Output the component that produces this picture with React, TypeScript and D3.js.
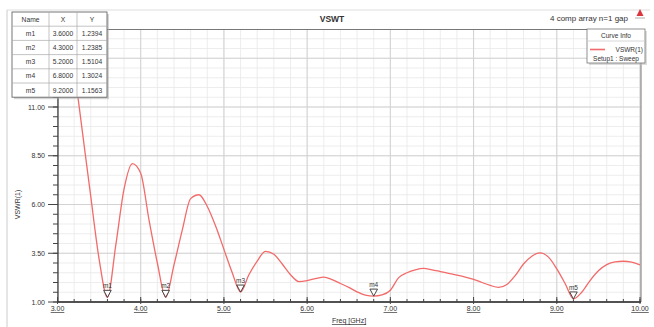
import * as d3 from 'd3';

// sweep samples (GHz, VSWR)
const FREQ = [
  3.0, 3.1, 3.2, 3.3, 3.4, 3.5, 3.6, 3.7, 3.8, 3.9, 4.0, 4.1, 4.2, 4.3, 4.4, 4.5, 4.6, 4.7, 4.8, 4.9,
  5.0, 5.1, 5.2, 5.3, 5.4, 5.5, 5.6, 5.7, 5.8, 5.9, 6.0, 6.1, 6.2, 6.3, 6.4, 6.5, 6.6, 6.7, 6.8, 6.9,
  7.0, 7.1, 7.2, 7.3, 7.4, 7.5, 7.6, 7.7, 7.8, 7.9, 8.0, 8.1, 8.2, 8.3, 8.4, 8.5, 8.6, 8.7, 8.8, 8.9,
  9.0, 9.1, 9.2, 9.3, 9.4, 9.5, 9.6, 9.7, 9.8, 9.9, 10.0,
];
const VSWR = [
  19.0, 16.0, 13.0, 9.7, 6.4, 3.2, 1.24, 3.9, 6.8, 8.1, 7.6, 5.2, 3.0, 1.24, 2.9, 4.7, 6.3, 6.5, 5.9, 4.9,
  3.7, 2.5, 1.51, 2.4, 3.1, 3.6, 3.45, 2.95, 2.4, 2.05, 2.1, 2.2, 2.28, 2.15, 1.95, 1.75, 1.52, 1.35, 1.3, 1.36,
  1.6, 2.25, 2.5, 2.65, 2.72, 2.65, 2.56, 2.47, 2.38, 2.28, 2.16, 2.0, 1.85, 1.75, 1.9, 2.35, 2.95, 3.35, 3.52, 3.3,
  2.7, 1.95, 1.16, 1.5, 2.1, 2.6, 2.92, 3.06, 3.09, 3.04, 2.9,
];

const MARKER_NAMES = ['m1', 'm2', 'm3', 'm4', 'm5'];
const MARKER_X = [3.6, 4.3, 5.2, 6.8, 9.2];
const MARKER_Y = [1.2394, 1.2385, 1.5104, 1.3024, 1.1563];

const X_TICKS = [3, 4, 5, 6, 7, 8, 9, 10];
const Y_TICKS = [1, 3.5, 6, 8.5, 11];

const W = 654;
const H = 327;
const LEFT = 58;
const RIGHT = 641;
const BOTTOM = 302;
const TOP = 29.5;
const FONT = '"Liberation Sans", Arial, sans-serif';
const RED = '#f26a6a';

export default function App() {
  const x = d3.scaleLinear().domain([3, 10]).range([57.5, 640]);
  const y = d3.scaleLinear().domain([1, 11]).range([BOTTOM, 107]);
  const yTop = y.invert(TOP);

  const minorX = d3.range(3, 10.001, 0.2);
  const minorY = d3.range(1, yTop, 0.5);
  const majorY = d3.range(1, yTop, 2.5);

  const line = d3
    .line<number>()
    .x((_, i) => x(FREQ[i]))
    .y((d) => y(d))
    .curve(d3.curveMonotoneX);

  const rowH = 14.2;
  const colX = [12, 49, 77, 107];
  const tableRows = MARKER_NAMES.map((n, i) => [n, MARKER_X[i].toFixed(4), MARKER_Y[i].toFixed(4)]);

  return (
    <svg
      width={W}
      height={H}
      style={{ position: 'absolute', left: 0, top: 0, background: '#fff', fontFamily: FONT }}
    >
      <defs>
        <clipPath id="plot">
          <rect x={LEFT} y={TOP} width={RIGHT - LEFT} height={BOTTOM - TOP} />
        </clipPath>
      </defs>

      {/* outer frame */}
      <line x1={7} y1={10} x2={650} y2={10} stroke="#ddd" />
      <line x1={7} y1={10} x2={7} y2={327} stroke="#ccc" />

      {/* grid */}
      {minorX.map((v) => (
        <line key={'gx' + v} x1={x(v)} x2={x(v)} y1={TOP} y2={BOTTOM} stroke="#e8e8e8" strokeWidth={0.8} />
      ))}
      {minorY.map((v) => (
        <line key={'gy' + v} x1={LEFT} x2={RIGHT} y1={y(v)} y2={y(v)} stroke="#e8e8e8" strokeWidth={0.8} />
      ))}
      {X_TICKS.map((v) => (
        <line key={'mx' + v} x1={x(v)} x2={x(v)} y1={TOP} y2={BOTTOM} stroke="#d2d2d2" strokeWidth={1} />
      ))}
      {majorY.map((v) => (
        <line key={'my' + v} x1={LEFT} x2={RIGHT} y1={y(v)} y2={y(v)} stroke="#d2d2d2" strokeWidth={1} />
      ))}

      {/* plot frame */}
      <line x1={LEFT} x2={RIGHT} y1={TOP} y2={TOP} stroke="#777" strokeWidth={1} />
      <line x1={RIGHT} x2={RIGHT} y1={TOP} y2={BOTTOM} stroke="#777" strokeWidth={1} />
      <line x1={LEFT} x2={LEFT} y1={TOP} y2={BOTTOM} stroke="#333" strokeWidth={1.2} />
      <line x1={LEFT} x2={RIGHT} y1={BOTTOM} y2={BOTTOM} stroke="#222" strokeWidth={1.5} />

      {/* y ticks */}
      {minorY.map((v) => (
        <line key={'ty' + v} x1={53} x2={LEFT} y1={y(v)} y2={y(v)} stroke="#444" strokeWidth={1} />
      ))}
      {Y_TICKS.map((v) => (
        <g key={'yl' + v}>
          <line x1={48} x2={LEFT} y1={y(v)} y2={y(v)} stroke="#444" strokeWidth={1} />
          <text x={45} y={y(v) + 2.5} fontSize={7} textAnchor="end" fill="#333">
            {v.toFixed(2)}
          </text>
        </g>
      ))}

      {/* x ticks */}
      {minorX.map((v) => (
        <line key={'tx' + v} x1={x(v)} x2={x(v)} y1={BOTTOM - 3} y2={BOTTOM} stroke="#444" strokeWidth={1} />
      ))}
      {X_TICKS.map((v) => (
        <g key={'xl' + v}>
          <line x1={x(v)} x2={x(v)} y1={BOTTOM - 5} y2={BOTTOM + 2} stroke="#444" strokeWidth={1} />
          <text x={x(v)} y={311} fontSize={7} textAnchor="middle" fill="#333" textDecoration="underline">
            {v.toFixed(2)}
          </text>
        </g>
      ))}

      {/* axis titles */}
      <text x={349} y={323} fontSize={7} textAnchor="middle" fill="#333" textDecoration="underline">
        Freq [GHz]
      </text>
      <text
        transform={`translate(20,${y(6)}) rotate(-90)`}
        fontSize={7}
        textAnchor="middle"
        fill="#333"
      >
        VSWR(1)
      </text>

      {/* curve */}
      <g clipPath="url(#plot)">
        <path d={line(VSWR) ?? ''} fill="none" stroke={RED} strokeWidth={1.3} />
      </g>

      {/* markers */}
      {MARKER_NAMES.map((n, i) => {
        const px = x(MARKER_X[i]);
        const py = y(MARKER_Y[i]);
        return (
          <g key={n}>
            <path
              d={`M${px},${py} L${px - 3.8},${py - 7} L${px + 3.8},${py - 7} Z`}
              fill="#fff"
              stroke="#333"
              strokeWidth={0.9}
            />
            <text x={px} y={py - 9} fontSize={6.5} textAnchor="middle" fill="#333">
              {n}
            </text>
          </g>
        );
      })}

      {/* title */}
      <text x={332} y={22} fontSize={8.5} fontWeight={700} textAnchor="middle" fill="#333">
        VSWT
      </text>
      <text x={628} y={21} fontSize={8} textAnchor="end" fill="#333">
        4 comp array n=1 gap
      </text>
      <path d="M640,9 L636.5,16 L643.5,16 Z" fill="#d9363e" />
      <line x1={635} x2={645} y1={18} y2={18} stroke="#999" strokeWidth={0.8} />

      {/* legend */}
      <rect x={589} y={31} width={58} height={34} fill="#bbb" opacity={0.5} />
      <rect x={587} y={29} width={58} height={34} fill="#fff" stroke="#777" strokeWidth={0.8} />
      <line x1={587} x2={645} y1={41} y2={41} stroke="#ccc" strokeWidth={0.8} />
      <text x={616} y={38} fontSize={6.5} textAnchor="middle" fill="#333">
        Curve Info
      </text>
      <line x1={590} x2={605} y1={49.5} y2={49.5} stroke={RED} strokeWidth={1.6} />
      <text x={643} y={52} fontSize={6.5} textAnchor="end" fill="#333">
        VSWR(1)
      </text>
      <text x={616} y={60.5} fontSize={6.5} textAnchor="middle" fill="#333">
        Setup1 : Sweep
      </text>

      {/* marker table */}
      <rect x={colX[0] + 2} y={14} width={colX[3] - colX[0]} height={rowH * 6} fill="#aaa" opacity={0.5} />
      <rect x={colX[0]} y={12} width={colX[3] - colX[0]} height={rowH * 6} fill="#fff" stroke="#666" strokeWidth={0.9} />
      {[1, 2, 3, 4, 5].map((r) => (
        <line key={'tr' + r} x1={colX[0]} x2={colX[3]} y1={12 + r * rowH} y2={12 + r * rowH} stroke="#aaa" strokeWidth={0.7} />
      ))}
      {[1, 2].map((c) => (
        <line key={'tc' + c} x1={colX[c]} x2={colX[c]} y1={12} y2={12 + rowH * 6} stroke="#aaa" strokeWidth={0.7} />
      ))}
      {['Name', 'X', 'Y'].map((h, c) => (
        <text key={'th' + c} x={(colX[c] + colX[c + 1]) / 2} y={12 + rowH / 2 + 2.4} fontSize={6.7} textAnchor="middle" fill="#333">
          {h}
        </text>
      ))}
      {tableRows.map((row, r) =>
        row.map((cell, c) => (
          <text
            key={`td${r}-${c}`}
            x={(colX[c] + colX[c + 1]) / 2}
            y={12 + (r + 1) * rowH + rowH / 2 + 2.4}
            fontSize={6.7}
            textAnchor="middle"
            fill="#333"
          >
            {cell}
          </text>
        )),
      )}
    </svg>
  );
}
